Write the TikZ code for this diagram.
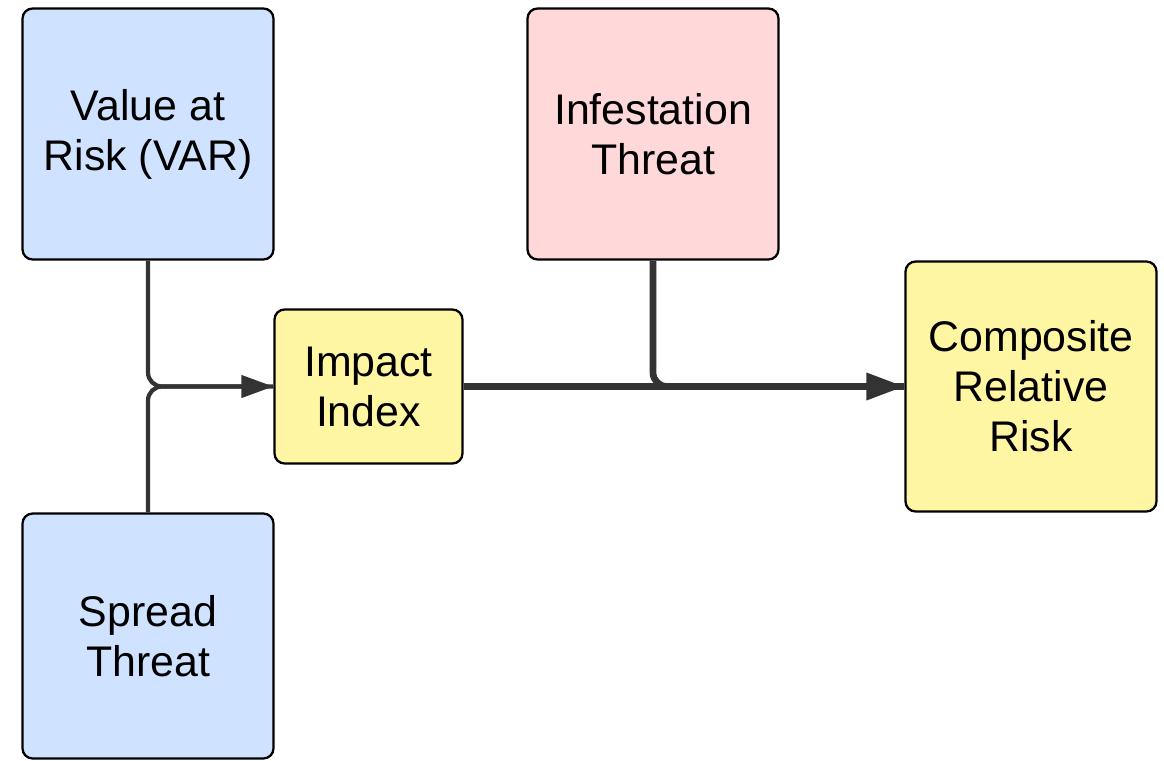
\documentclass[tikz,border=0pt]{standalone}
\usepackage{fontspec}
\setmainfont{Liberation Sans}
\usetikzlibrary{positioning, arrows.meta, calc}

\definecolor{boxblue}{HTML}{CFE2FF}
\definecolor{boxpink}{HTML}{FFD8DA}
\definecolor{boxyellow}{HTML}{FFF6A3}
\definecolor{linegray}{HTML}{333333}

\begin{document}
\begin{tikzpicture}[x=0.02cm, y=-0.02cm,
	box/.style={draw=black, line width=1.3pt, rounded corners=0.2cm, align=center, inner sep=0pt,
		font=\fontsize{24.4}{28.5}\selectfont},
	link/.style={draw=linegray, line width=2.4pt, rounded corners=0.28cm},
	mainlink/.style={draw=linegray, line width=3.8pt, rounded corners=0.28cm}]
	\useasboundingbox (0,0) rectangle (1164,761);
	\node[box, fill=boxblue, minimum width=5.02cm, minimum height=5.02cm] (var) at (148,134) {Value at\\Risk (VAR)};
	\node[box, fill=boxblue, minimum width=5.02cm, minimum height=4.9cm] (spread) at (148,636) {Spread\\Threat};
	\node[box, fill=boxyellow, minimum width=3.76cm, minimum height=3.08cm] (impact) at (368.5,386.5) {Impact\\Index};
	\node[box, fill=boxpink, minimum width=5.02cm, minimum height=5.02cm] (infest) at (653,134) {Infestation\\Threat};
	\node[box, fill=boxyellow, minimum width=5.02cm, minimum height=5cm] (comp) at (1031,386.5) {Composite\\Relative\\Risk};
	\draw[link] (spread.north) |- (impact.west);
	\draw[link, -{Triangle[length=0.64cm, width=0.44cm]}] (var.south) |- (impact.west);
	\draw[mainlink] (infest.south) |- (comp.west);
	\draw[mainlink, -{Triangle[length=0.76cm, width=0.52cm]}] (impact.east) -- (comp.west);
\end{tikzpicture}
\end{document}
